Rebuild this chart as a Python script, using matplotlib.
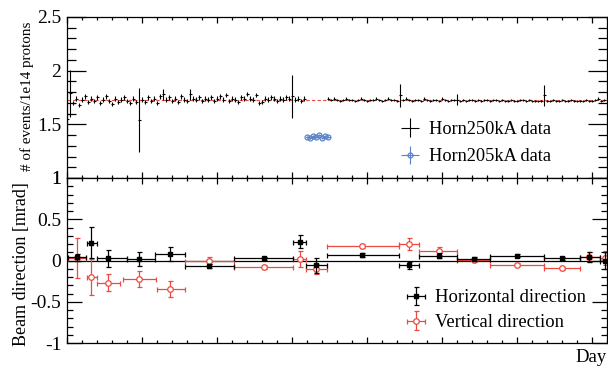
import numpy as np
import matplotlib

matplotlib.use('Agg')
import matplotlib.pyplot as plt
from matplotlib.ticker import MultipleLocator

plt.rcParams['font.family'] = ['Liberation Serif', 'DejaVu Serif']

# ---- top panel: event rate per 1e14 protons ----
# Horn 250 kA, first period (one value per day, day 0..79)
h250_days_a = np.arange(0, 80)
h250_a = [1.55, 1.79, 1.70, 1.74, 1.68, 1.73, 1.76, 1.71, 1.74, 1.72,
          1.75, 1.70, 1.73, 1.76, 1.72, 1.69, 1.74, 1.71, 1.73, 1.75,
          1.72, 1.70, 1.74, 1.71, 1.54, 1.73, 1.71, 1.75, 1.72, 1.74,
          1.70, 1.76, 1.78, 1.73, 1.75, 1.72, 1.74, 1.71, 1.76, 1.73,
          1.72, 1.78, 1.74, 1.73, 1.75, 1.72, 1.74, 1.73, 1.75, 1.72,
          1.74, 1.76, 1.73, 1.77, 1.72, 1.74, 1.73, 1.71, 1.75, 1.74,
          1.78, 1.74, 1.73, 1.77, 1.70, 1.71, 1.74, 1.73, 1.75, 1.74,
          1.72, 1.74, 1.73, 1.75, 1.74, 1.76, 1.73, 1.74, 1.72, 1.74]
h250_err_a = [0.27, 0.22] + [0.02] * 22 + [0.30] + [0.02] * 7 + [0.05] + \
             [0.02] * 8 + [0.05] + [0.02] * 33 + [0.20] + [0.02] * 4

# Horn 250 kA, second period (day 87..179)
h250_days_b = np.arange(87, 180)
h250_b = [1.74, 1.73, 1.74, 1.73, 1.72, 1.73, 1.74, 1.73, 1.73, 1.72,
          1.73, 1.74, 1.73, 1.72, 1.73, 1.73, 1.74, 1.73, 1.72, 1.73,
          1.74, 1.73, 1.73, 1.72, 1.77, 1.73, 1.74, 1.73, 1.72, 1.73,
          1.73, 1.72, 1.74, 1.73, 1.72, 1.73, 1.73, 1.72, 1.74, 1.73,
          1.72, 1.73, 1.73, 1.73, 1.72, 1.73, 1.72, 1.73, 1.73, 1.72,
          1.73, 1.72, 1.73, 1.73, 1.72, 1.73, 1.73, 1.72, 1.73, 1.72,
          1.72, 1.73, 1.72, 1.72, 1.73, 1.73, 1.72, 1.73, 1.72, 1.72,
          1.72, 1.72, 1.77, 1.72, 1.72, 1.73, 1.72, 1.72, 1.73, 1.72,
          1.72, 1.73, 1.72, 1.72, 1.72, 1.72, 1.73, 1.72, 1.72, 1.73,
          1.74, 1.72, 1.73]
h250_err_b = [0.01] * 24 + [0.11] + [0.01] * 18 + [0.05] + [0.01] * 28 + \
             [0.10] + [0.01] * 20

# Horn 205 kA period
h205_days = [80, 81, 82, 83, 84, 85, 86, 87]
h205 = [1.38, 1.37, 1.39, 1.38, 1.40, 1.37, 1.39, 1.38]
h205_err = [0.01] * 8

fit250 = 1.73
fit205 = 1.38

# ---- bottom panel: beam direction ----
hor_day = [3.2, 8.0, 13.8, 24.0, 34.3, 47.4, 65.7, 77.7, 82.9, 98.4,
           114.0, 124.0, 135.7, 149.9, 164.9, 174.1, 179.2]
hor_lo = [0.3, 6.8, 9.9, 19.9, 29.3, 39.3, 55.8, 75.4, 79.7, 86.6,
          110.7, 117.3, 130.1, 141.0, 159.0, 171.0, 177.7]
hor_hi = [6.3, 9.9, 19.9, 29.3, 39.3, 55.8, 75.4, 79.7, 86.6, 110.7,
          117.3, 130.1, 141.0, 159.0, 171.0, 177.7, 181.0]
hor_val = [0.04, 0.216, 0.027, 0.018, 0.079, -0.067, 0.027, 0.228, -0.058, 0.067,
           -0.058, 0.055, 0.018, 0.058, 0.027, 0.04, 0.0]
hor_err = [0.04, 0.19, 0.10, 0.09, 0.085, 0.02, 0.02, 0.077, 0.09, 0.02,
           0.04, 0.03, 0.02, 0.02, 0.02, 0.06, 0.10]

ver_day = hor_day
ver_lo = [0.3, 6.8, 9.9, 18.7, 30.0, 39.3, 55.8, 75.4, 79.7, 86.6,
          110.7, 117.3, 130.1, 141.0, 159.0, 171.0, 177.7]
ver_hi = [6.3, 9.9, 17.7, 29.7, 39.3, 55.8, 75.4, 79.7, 86.6, 110.7,
          117.3, 130.1, 141.0, 159.0, 171.0, 177.7, 181.0]
ver_val = [0.027, -0.196, -0.27, -0.224, -0.345, 0.0, -0.079, 0.022, -0.1, 0.176,
           0.2, 0.115, 0.006, -0.05, -0.095, 0.046, 0.03]
ver_err = [0.24, 0.22, 0.105, 0.095, 0.097, 0.04, 0.02, 0.095, 0.06, 0.02,
           0.07, 0.045, 0.02, 0.02, 0.02, 0.06, 0.08]

RED = '#ec4a3e'
BLUE = '#5a82c8'

fig = plt.figure(figsize=(6.08, 3.71), dpi=100)
W, H = 608.0, 371.0
ax1 = fig.add_axes([67 / W, 1 - 178 / H, 540 / W, 161 / H])
ax2 = fig.add_axes([67 / W, 1 - 343 / H, 540 / W, 165 / H])


def style_axis(ax, ymaj_len, ymin_len):
    ax.set_xlim(0, 180)
    ax.xaxis.set_major_locator(MultipleLocator(25))
    ax.xaxis.set_minor_locator(MultipleLocator(5))
    ax.tick_params(which='both', direction='in', top=True, right=True,
                   labelbottom=False, labelsize=14, width=0.9, pad=4)
    ax.tick_params(axis='x', which='major', length=4.5)
    ax.tick_params(axis='x', which='minor', length=2.3)
    ax.tick_params(axis='y', which='major', length=ymaj_len)
    ax.tick_params(axis='y', which='minor', length=ymin_len)
    for s in ax.spines.values():
        s.set_linewidth(0.9)


# top panel
ax1.axhline(fit250, color=RED, ls=(0, (3, 2)), lw=0.8, zorder=1)
ax1.plot([h205_days[0] - 0.5, h205_days[-1] + 0.5], [fit205, fit205],
         color=RED, ls=(0, (3, 2)), lw=0.8, zorder=1)
e250 = ax1.errorbar(h250_days_a, h250_a, yerr=h250_err_a, xerr=0.5, fmt='none',
                    ecolor='black', elinewidth=0.8, zorder=2, label='Horn250kA data')
ax1.errorbar(h250_days_b, h250_b, yerr=h250_err_b, xerr=0.5, fmt='none',
             ecolor='black', elinewidth=0.8, zorder=2)
e205 = ax1.errorbar(h205_days, h205, yerr=h205_err, xerr=0.5, fmt='o', ms=3.5,
                    mfc='none', mec=BLUE, mew=0.9, color=BLUE, ecolor=BLUE,
                    elinewidth=0.8, zorder=3, label='Horn205kA data')
ax1.set_ylim(1, 2.5)
ax1.yaxis.set_major_locator(MultipleLocator(0.5))
ax1.yaxis.set_minor_locator(MultipleLocator(0.1))
style_axis(ax1, 13.5, 6.5)
ax1.set_yticks([1, 1.5, 2, 2.5], ['1', '1.5', '2', '2.5'])
ax1.set_ylabel('# of events/1e14 protons', fontsize=10.9)
ax1.yaxis.set_label_coords(-0.062, 0.51)
ax1.legend(handles=[e250, e205], loc='upper left', bbox_to_anchor=(0.6, 0.40),
           frameon=False, fontsize=13.2, handlelength=1.3, handletextpad=0.35,
           labelspacing=0.57, borderaxespad=0)

# bottom panel
ax2.axhline(0, color='black', lw=0.9, zorder=1)
hx = [np.subtract(hor_day, hor_lo), np.subtract(hor_hi, hor_day)]
vx = [np.subtract(ver_day, ver_lo), np.subtract(ver_hi, ver_day)]
eh = ax2.errorbar(hor_day, hor_val, yerr=hor_err, xerr=hx, fmt='s', ms=3.2,
                  color='black', ecolor='black', elinewidth=0.9, capsize=1.8,
                  capthick=0.9, zorder=3, label='Horizontal direction')
ev = ax2.errorbar(ver_day, ver_val, yerr=ver_err, xerr=vx, fmt='o', ms=4,
                  mfc='white', mec=RED, mew=0.9, color=RED, ecolor=RED,
                  elinewidth=0.9, capsize=1.8, capthick=0.9, zorder=2,
                  label='Vertical direction')
ax2.set_ylim(-1, 1)
ax2.yaxis.set_major_locator(MultipleLocator(0.5))
ax2.yaxis.set_minor_locator(MultipleLocator(0.1))
style_axis(ax2, 10.5, 4.5)
ax2.set_yticks([-1, -0.5, 0, 0.5, 1], ['-1', '-0.5', '0', '0.5', '1'])
ax2.set_ylabel('Beam direction [mrad]', fontsize=13)
ax2.yaxis.set_label_coords(-0.068, 0.479)
ax2.legend(handles=[eh, ev], loc='upper left', bbox_to_anchor=(0.61, 0.37),
           frameon=False, fontsize=13.4, handlelength=1.3, handletextpad=0.35,
           labelspacing=0.41, borderaxespad=0)

fig.text(607 / W, 1 - 358 / H, 'Day', fontsize=13.5, ha='right', va='center')

fig.savefig('out.png', dpi=100)
